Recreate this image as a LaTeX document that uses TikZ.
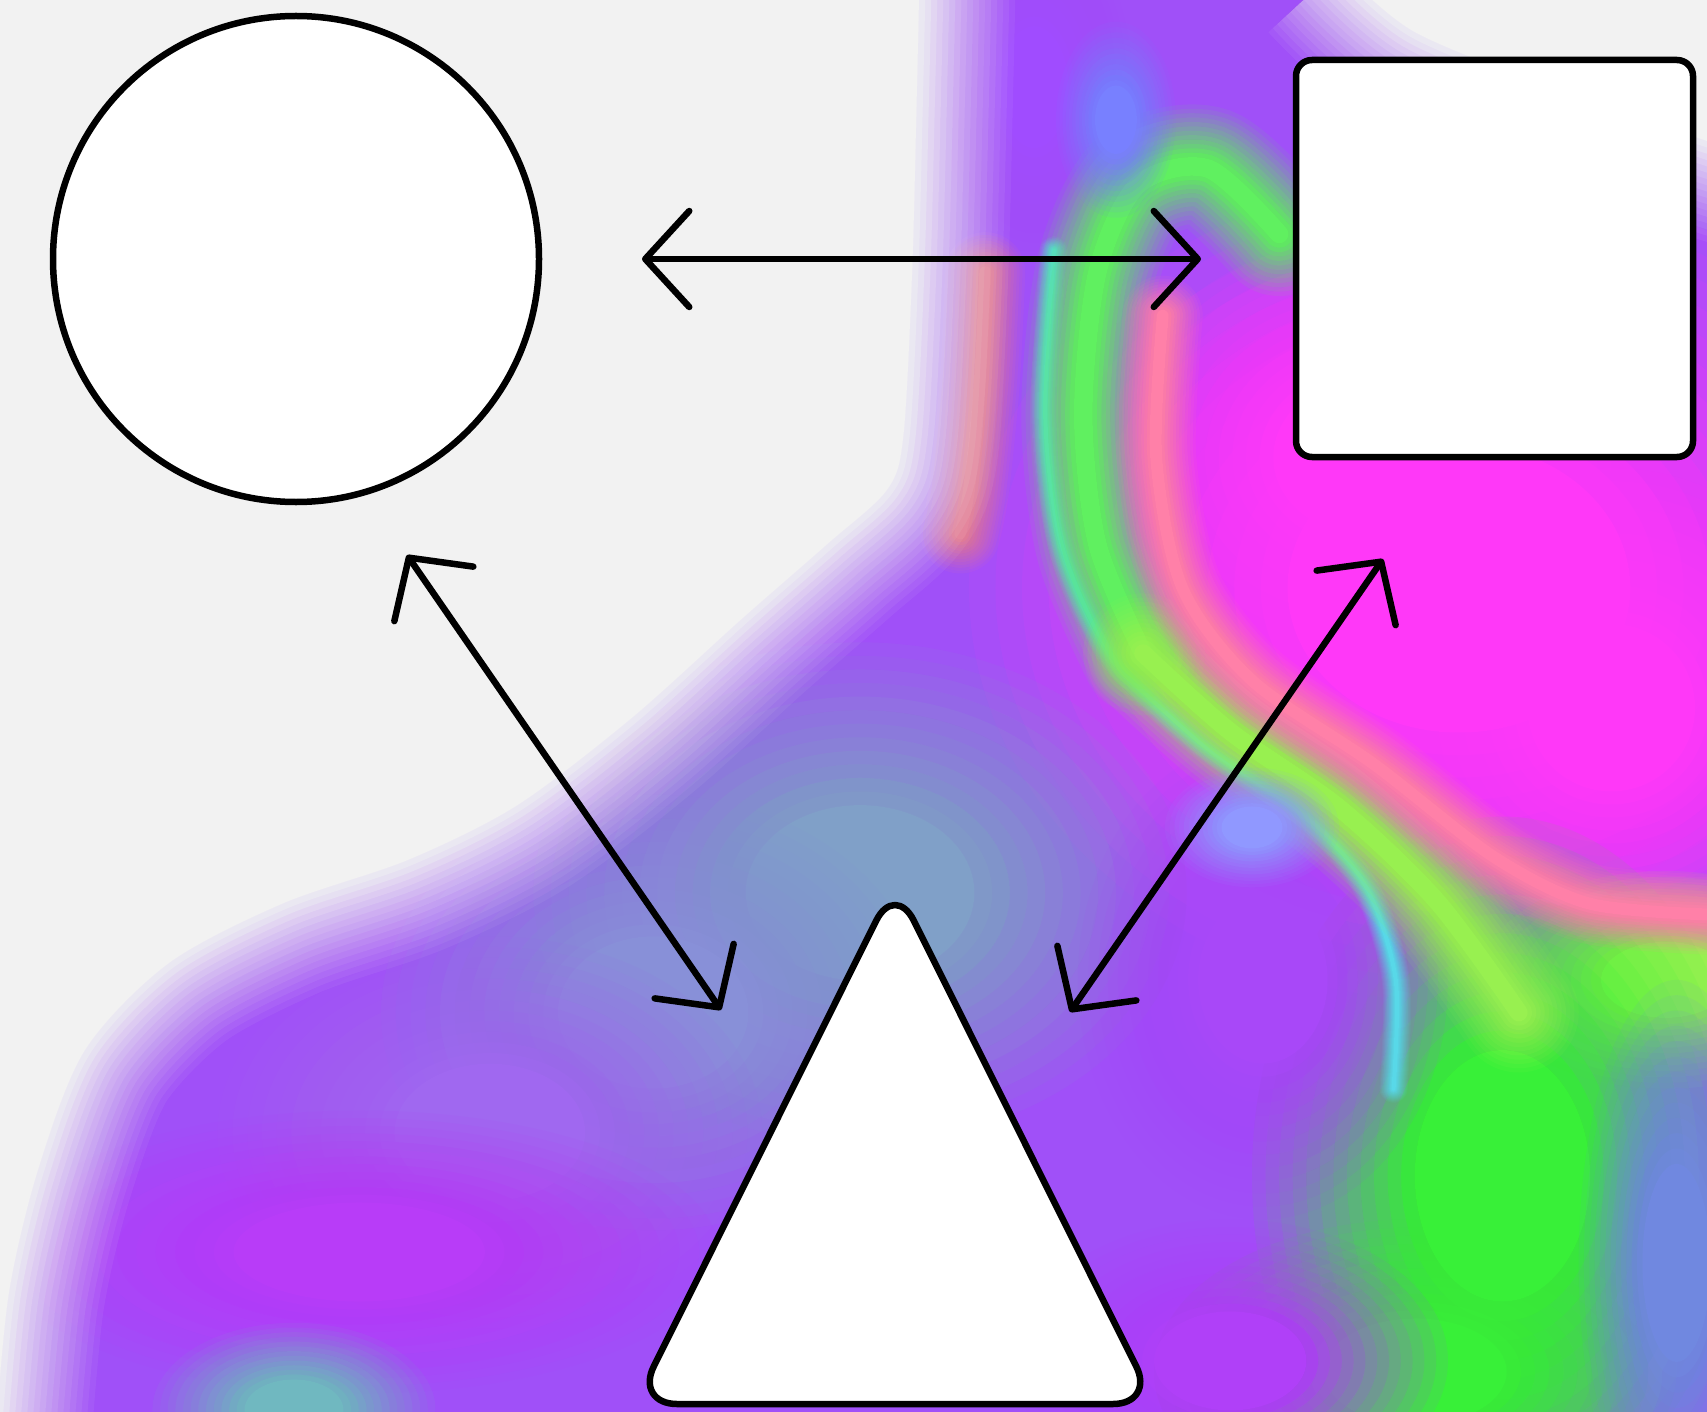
\documentclass[tikz,border=0pt]{standalone}
\usetikzlibrary{arrows.meta}
\definecolor{bgc}{HTML}{F2F2F2}
\definecolor{basep}{HTML}{A050F8}
\definecolor{mag}{HTML}{FF38F8}
\definecolor{grn}{HTML}{38F038}
\definecolor{bgr}{HTML}{80A0C8}
\definecolor{peri}{HTML}{8890D8}
\definecolor{vio}{HTML}{A068F0}
\definecolor{pmag}{HTML}{B83CF8}
\definecolor{cyn}{HTML}{70B8C0}
\definecolor{pur}{HTML}{A848F8}
\definecolor{pur2}{HTML}{B040F8}
\definecolor{lgrn}{HTML}{60F060}
\definecolor{ygrn}{HTML}{98F050}
\definecolor{salm}{HTML}{F08080}
\definecolor{blu}{HTML}{7880FF}
\definecolor{lblu}{HTML}{9098FF}
\definecolor{ptop}{HTML}{A04CFF}
\definecolor{rstrip}{HTML}{7088E0}
\definecolor{pinkb}{HTML}{FF80A8}
\definecolor{cyline}{HTML}{58D8E8}
\tikzset{
  shapebox/.style={draw=black, fill=white, line width=3.25pt, line join=round},
  biarrow/.style={line width=3.25pt, line cap=round,
    {Straight Barb[round,length=22pt,width=48pt]}-{Straight Barb[round,length=22pt,width=48pt]}}
}
% soft blob: colour, x, y, rx, ry  (opaque core 35%, linear fade outside)
\newcommand\softblob[5]{%
  \fill[#1] (#2,#3) ellipse ({0.35*#4} and {0.35*#5});
  \foreach \j in {1,...,12}{%
    \pgfmathsetmacro\myop{1/(\j+0.5)}%
    \pgfmathsetmacro\myf{0.35+0.65*\j/12}%
    \fill[#1, opacity=\myop] (#2,#3) ellipse ({\myf*#4} and {\myf*#5});
  }}
% soft band: colour, full width in pt, coordinates
\newcommand\softband[3]{%
  \pgfmathsetmacro\mycw{0.15*#2}%
  \draw[#1, line width=\mycw pt, line cap=round] plot[smooth] coordinates {#3};
  \foreach \j in {1,...,12}{%
    \pgfmathsetmacro\myop{1/(\j+0.5)}%
    \pgfmathsetmacro\myw{#2*(0.15+0.85*\j/12)}%
    \draw[#1, opacity=\myop, line width=\myw pt, line cap=round] plot[smooth] coordinates {#3};
  }}
\begin{document}
\begin{tikzpicture}[x=0.5pt,y=-0.5pt]
\useasboundingbox (0,0) rectangle (1707,1412);
\fill[bgc] (0,0) rectangle (1707,1412);
\begin{scope}[scale=1.0887]
  \begin{scope}
    \clip plot[smooth] coordinates {(845,-30) (842,100) (838,250) (830,400) (815,450) (760,500) (680,570) (580,660) (475,740) (375,790) (260,830) (155,885) (78,965) (35,1075) (8,1190) (-5,1330)}
      -- (1620,1330) -- (1620,140)
      -- plot[smooth] coordinates {(1600,140) (1450,90) (1300,30) (1230,-30)} -- cycle;
    \fill[basep] (-20,-40) rectangle (1640,1340);
    \softblob{ptop}{950}{80}{90}{160}
    \softblob{mag}{1340}{540}{450}{380}
    \softblob{mag}{1250}{420}{230}{200}
    \softblob{mag}{1480}{650}{220}{220}
    \softblob{ygrn}{1530}{900}{170}{100}
    \softblob{grn}{1380}{1080}{230}{330}
    \softblob{grn}{1300}{1260}{240}{140}
    \softblob{bgr}{790}{820}{300}{230}
    \softblob{peri}{600}{930}{250}{200}
    \softblob{vio}{450}{1040}{250}{180}
    \softblob{pmag}{330}{1150}{330}{130}
    \softblob{cyn}{270}{1295}{130}{80}
    \softblob{pur}{1160}{900}{170}{220}
    \softblob{pur2}{1130}{1250}{200}{130}
    \softblob{rstrip}{1540}{1160}{90}{260}
    \softband{salm!85!basep}{40}{(905,250) (900,350) (890,450) (882,490)}
    \softband{cyline}{14}{(968,230) (960,380) (975,500) (1020,600) (1100,680) (1200,750) (1255,815) (1282,900) (1280,1000)}
    \softband{lgrn}{62}{(1175,215) (1110,155) (1045,170) (1008,250) (995,380) (1008,500) (1050,600)}
    \softband{ygrn}{60}{(1050,600) (1130,672) (1230,742) (1320,828) (1395,930)}
    \softband{pinkb}{40}{(1068,290) (1062,420) (1086,540) (1150,625) (1262,702) (1372,787) (1460,830) (1570,840)}
    \softblob{blu}{1025}{110}{55}{90}
    \softblob{lblu}{1150}{760}{80}{55}
  \end{scope}
  \foreach \j in {1,...,16}{
    \pgfmathsetmacro\myop{1/(\j+0.5)}
    \pgfmathsetmacro\myw{6*\j}
    \draw[bgc, opacity=\myop, line width=\myw pt] plot[smooth] coordinates {(845,-30) (842,100) (838,250) (830,400) (815,450) (760,500) (680,570) (580,660) (475,740) (375,790) (260,830) (155,885) (78,965) (35,1075) (8,1190) (-5,1330)};
    \draw[bgc, opacity=\myop, line width=\myw pt] plot[smooth] coordinates {(1600,140) (1450,90) (1300,30) (1230,-30)};
  }
\end{scope}

% shapes
\node[shapebox, circle, minimum size=243pt, inner sep=0pt] (c) at (296,259) {};
\node[shapebox, rectangle, rounded corners=8pt, minimum width=198.5pt, minimum height=198.5pt, inner sep=0pt] (s) at (1494.5,258.5) {};
\coordinate (tA) at (895,883);
\coordinate (tR) at (1155,1404);
\coordinate (tL) at (635,1404);
\draw[shapebox, rounded corners=21pt] (tA) -- (tR) -- (tL) -- cycle;

% connector ends
\coordinate (h1) at (642,259);
\coordinate (h2) at (1201,259);
\coordinate (d1a) at (407,555);
\coordinate (d1b) at (721,1010);
\coordinate (d2a) at (1383,559);
\coordinate (d2b) at (1070,1012);
\draw[biarrow] (h1) -- (h2);
\draw[biarrow] (d1a) -- (d1b);
\draw[biarrow] (d2a) -- (d2b);
\end{tikzpicture}
\end{document}
